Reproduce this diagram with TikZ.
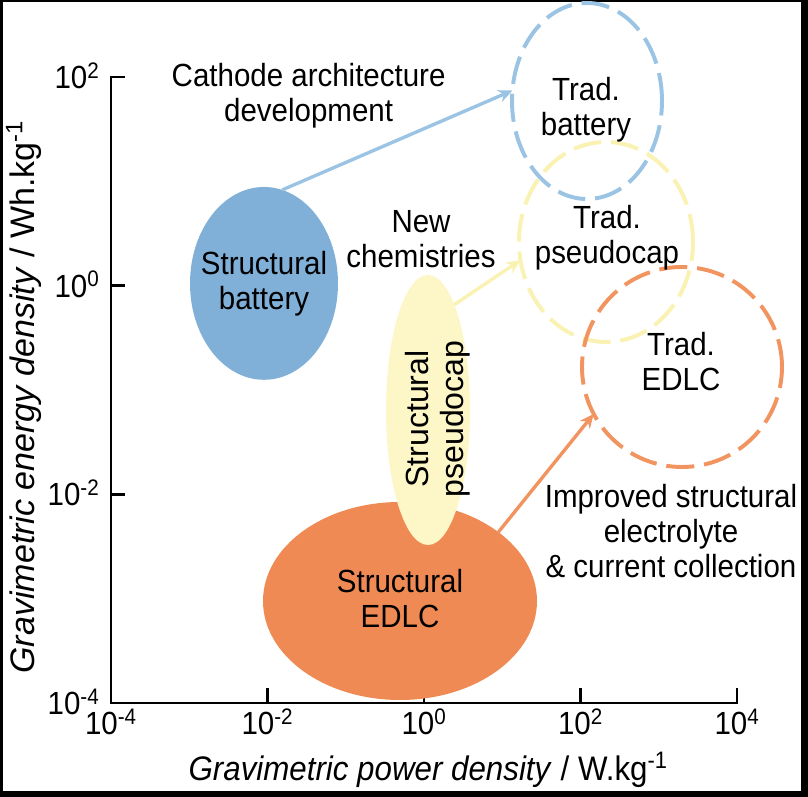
\documentclass[tikz,border=0pt]{standalone}
\usepackage{fontspec}
\setmainfont{Liberation Sans}[FakeStretch=0.92]
\newfontfamily\uprfont{Liberation Sans}
\usetikzlibrary{shapes.geometric,arrows.meta}
\definecolor{batfill}{RGB}{128,176,216}
\definecolor{batline}{RGB}{155,196,228}
\definecolor{capfill}{RGB}{253,246,198}
\definecolor{capline}{RGB}{250,242,178}
\definecolor{edlcfill}{RGB}{240,138,84}
\definecolor{edlcline}{RGB}{242,148,96}

\tikzset{
  blob/.style={ellipse, inner sep=0pt, outer sep=0pt},
  trad/.style={ellipse, inner sep=0pt, outer sep=0pt, line width=2.8pt, dash pattern=on 20pt off 7pt},
  lbl/.style={align=center, inner sep=0pt, font=\fontsize{22.8}{24.9}\selectfont},
  rlbl/.style={lbl, rotate=90, font=\uprfont\fontsize{22.8}{24.9}\selectfont},
  ticklbl/.style={inner sep=0pt, font=\fontsize{22.8}{24.9}\selectfont},
  axlbl/.style={inner sep=0pt, font=\fontsize{24.2}{26}\selectfont},
  axisline/.style={line width=2pt},
  link/.style={line width=2.4pt, -{Stealth[length=10pt,width=9pt]}}
}

\begin{document}
\begin{tikzpicture}

% frame
\fill[black] (-2.775,-2.35) rectangle (17.425,17.575);
\fill[white] (-2.7,-2.2) rectangle (17.25,17.525);

% Axes
\draw[axisline] (0.35,15.65) -- (0,15.65) -- (0,0) -- (15.65,0) -- (15.65,0.375);
\foreach \y in {5.217,10.433}
  \draw[axisline] (0,\y) -- (0.35,\y);
\foreach \x in {3.9125,7.825,11.7375}
  \draw[axisline] (\x,0) -- (\x,0.375);

\foreach \y/\e [count=\i] in {0/-4,5.217/-2,10.433/0,15.65/2}
  \node[ticklbl, anchor=base east] (ytick\i) at (-0.28,\y-0.29) {10\textsuperscript{\e}};
\foreach \x/\e [count=\i] in {0/-4,3.9125/-2,7.825/0,11.7375/2,15.65/4}
  \node[ticklbl, anchor=base] (xtick\i) at (\x,-0.8) {10\textsuperscript{\e}};

\node[axlbl, anchor=base] (xtitle) at (7.93,-1.95)
  {\textit{Gravimetric power density} / W.kg\textsuperscript{-1}};
\node[axlbl, anchor=base, rotate=90, font=\uprfont\fontsize{24.2}{26}\selectfont] (ytitle) at (-1.9,7.65)
  {\textit{Gravimetric energy density} / Wh.kg\textsuperscript{-1}};

% Structural devices
\node[blob, fill=edlcfill, minimum width=6.85cm, minimum height=4.95cm] (sedlc) at (7.225,2.55) {};
\node[blob, fill=capfill, minimum width=2.1cm, minimum height=6.75cm] (scap) at (7.925,7.325) {};
\node[blob, fill=batfill, minimum width=3.7cm, minimum height=4.82cm] (sbat) at (3.825,10.49) {};

% Traditional devices
\node[trad, draw=capline, minimum width=4.35cm, minimum height=5cm] (tcap) at (12.375,11.525) {};
\node[trad, draw=batline, minimum width=3.75cm, minimum height=4.9cm] (tbat) at (11.9,15.05) {};
\node[trad, draw=edlcline, minimum size=5cm] (tedlc) at (14.275,8.4) {};

% Connections
\draw[link, batline] (sbat.79) -- (tbat.172);
\draw[link, capline] (scap.76) -- (tcap.192);
\draw[link, edlcline] (sedlc.35) -- (tedlc.208);

% Labels
\node[lbl] (sbattxt) at (sbat) {Structural\\battery};
\node[lbl] (sedlctxt) at (7.225,2.61) {Structural\\EDLC};
\node[rlbl] (scaptxt) at (8.16,7.1) {Structural\\pseudocap};
\node[lbl] (tbattxt) at (11.875,14.83) {Trad.\\battery};
\node[lbl] (tcaptxt) at (12.4,11.64) {Trad.\\pseudocap};
\node[lbl] (tedlctxt) at (14.25,8.54) {Trad.\\EDLC};
\node[lbl] (cathode) at (4.94,15.19) {Cathode architecture\\development};
\node[lbl] (newchem) at (7.75,11.6) {New\\chemistries};
\node[lbl] (improved) at (14.0,4.29) {Improved structural\\electrolyte\\\& current collection};

\end{tikzpicture}
\end{document}
